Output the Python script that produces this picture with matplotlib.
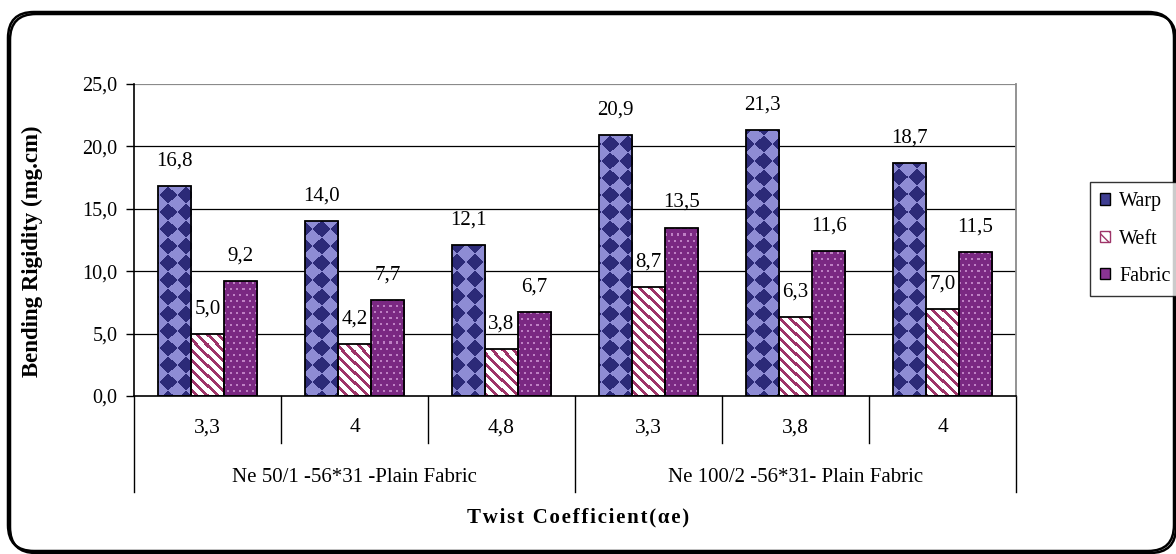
import numpy as np
import matplotlib
matplotlib.use("Agg")
import matplotlib.pyplot as plt
import matplotlib.transforms as mtransforms
from matplotlib.patches import FancyBboxPatch, Patch

plt.rcParams['font.family'] = ['Liberation Serif', 'DejaVu Serif']

# ---- data ----
categories = ["3,3", "4", "4,8", "3,3", "3,8", "4"]
groups = ["Ne 50/1 -56*31 -Plain Fabric", "Ne 100/2 -56*31- Plain Fabric"]
group_size = [3, 3]
series_names = ["Warp", "Weft", "Fabric"]
warp = [16.8, 14.0, 12.1, 20.9, 21.3, 18.7]
weft = [5.0, 4.2, 3.8, 8.7, 6.3, 7.0]
fabric = [9.2, 7.7, 6.7, 13.5, 11.6, 11.5]
yticks = [0, 5, 10, 15, 20, 25]

W_PX, H_PX = 1176, 554
DPI = 100
fig = plt.figure(figsize=(W_PX / DPI, H_PX / DPI), dpi=DPI)
fig.patch.set_facecolor("white")

ax_l, ax_r, ax_t, ax_b = 134, 1016, 84, 396
ax = fig.add_axes([ax_l / W_PX, 1 - ax_b / H_PX, (ax_r - ax_l) / W_PX, (ax_b - ax_t) / H_PX])

n = len(categories)
x = np.arange(n)
xlim = (-0.5, n - 0.5)
ax.set_xlim(*xlim)
ax.set_ylim(0, 25)


# ---- fill textures (pixel-space patterns) ----
def texture(kind, w, h):
    xx, yy = np.meshgrid(np.arange(w), np.arange(h))
    img = np.ones((h, w, 3))
    if kind == "diamond":
        s = 17.0
        u = np.floor((xx + yy) / s)
        v = np.floor((xx - yy) / s)
        light = ((u + v) % 2 == 0)
        dark = np.array([44, 42, 120]) / 255
        lite = np.array([142, 140, 212]) / 255
        img[:] = dark
        img[light] = lite
    elif kind == "stripe":
        per = 10
        f = (xx - yy) % per
        maroon = np.array([158, 52, 104]) / 255
        img[:] = 1.0
        img[f < 4] = maroon
    elif kind == "dots":
        base = np.array([122, 40, 130]) / 255
        dot = np.array([190, 128, 196]) / 255
        img[:] = base
        sh = ((yy // 6) % 2) * 3
        m = (((xx + sh) % 6) < 2) & ((yy % 6) < 2)
        img[m] = dot
    return img


ax_w_px, ax_h_px = ax_r - ax_l, ax_b - ax_t
kinds = ["diamond", "stripe", "dots"]
textures = [texture(k, ax_w_px, ax_h_px) for k in kinds]

bw = 0.225
all_series = [warp, weft, fabric]
for si, (vals, tex) in enumerate(zip(all_series, textures)):
    offs = (si - 1) * bw
    bars = ax.bar(x + offs, vals, width=bw, facecolor="none",
                  edgecolor="black", linewidth=1.3, zorder=3)
    for rect, v in zip(bars, vals):
        im = ax.imshow(tex, extent=(xlim[0], xlim[1], 0, 25), aspect="auto",
                       interpolation="nearest", zorder=2)
        im.set_clip_path(rect)
        ax.annotate(f"{v:.1f}".replace(".", ","), (rect.get_x() + rect.get_width() / 2, v),
                    xytext=(0, 18), textcoords="offset points",
                    ha="center", va="center", fontsize=15, zorder=4)

ax.set_xlim(*xlim)
ax.set_ylim(0, 25)

# ---- axes styling ----
ax.set_yticks(yticks)
ax.set_yticklabels([f"{t:.1f}".replace(".", ",") for t in yticks], fontsize=14.5)
ax.tick_params(axis="y", direction="out", length=6, width=1, pad=6, colors="black")
ax.set_xticks([])
for t in yticks[1:-1]:
    ax.axhline(t, color="black", lw=0.9, zorder=1)
ax.axhline(25, color="#8a8a8a", lw=1.6, zorder=1)
ax.spines["top"].set_visible(False)
ax.spines["right"].set_color("#8a8a8a")
ax.spines["right"].set_linewidth(1.3)
ax.spines["left"].set_linewidth(1.2)
ax.spines["bottom"].set_linewidth(1.2)

# ---- category / group axis below ----
trans = mtransforms.blended_transform_factory(ax.transData, ax.transAxes)
cat_y = (ax_b - 428) / ax_h_px
grp_y = (ax_b - 477) / ax_h_px
sep_short = (ax_b - 443) / ax_h_px
sep_long = (ax_b - 492) / ax_h_px
for i, lab in enumerate(categories):
    ax.text(i, cat_y, lab, transform=trans, ha="center", va="center", fontsize=15.5)

bounds = np.concatenate([[0], np.cumsum(group_size)]) - 0.5
for b in np.arange(n + 1) - 0.5:
    low = sep_long if b in bounds else sep_short
    ax.plot([b, b], [0, low], transform=trans, color="black", lw=1.0, clip_on=False)
for g, lab in enumerate(groups):
    c = (bounds[g] + bounds[g + 1]) / 2
    ax.text(c, grp_y, lab, transform=trans, ha="center", va="center", fontsize=15)

# ---- axis titles ----
fig.text(32 / W_PX, 1 - 251 / H_PX, "Bending Rigidity (mg.cm)", rotation=90,
         ha="center", va="center", fontsize=16.5, fontweight="bold")
xtitle = "\u200a".join("Twist Coefficient(αe)")
fig.text(578 / W_PX, 1 - 517 / H_PX, xtitle,
         ha="center", va="center", fontsize=15, fontweight="bold")

# ---- legend ----
handles = [Patch(facecolor="#3f3e92", edgecolor="black", lw=1.0),
           Patch(facecolor="white", edgecolor="#9e3468", hatch="\\\\\\", lw=1.0),
           Patch(facecolor="#8a3494", edgecolor="black", lw=1.0)]
leg = fig.legend(handles, series_names, loc="center left",
                 bbox_to_anchor=(1090 / W_PX, 1 - 239 / H_PX),
                 fontsize=14.5, frameon=True, fancybox=False, edgecolor="black",
                 handlelength=0.5, handleheight=0.5, handletextpad=0.45,
                 labelspacing=0.9, borderpad=0.5, borderaxespad=0)
leg.get_frame().set_linewidth(1.0)

# ---- outer rounded frame ----
frame_l, frame_r, frame_t, frame_b = 8, 1174, 12, 551
shadow = FancyBboxPatch((frame_l + 2, H_PX - frame_b - 2), frame_r - frame_l, frame_b - frame_t,
                        boxstyle="round,pad=0,rounding_size=26", transform=mtransforms.IdentityTransform(),
                        facecolor="none", edgecolor="black", lw=1.8)
border = FancyBboxPatch((frame_l, H_PX - frame_b), frame_r - frame_l, frame_b - frame_t,
                        boxstyle="round,pad=0,rounding_size=26", transform=mtransforms.IdentityTransform(),
                        facecolor="none", edgecolor="black", lw=1.8)
fig.add_artist(shadow)
fig.add_artist(border)

fig.savefig("out.png", dpi=DPI, facecolor="white")
